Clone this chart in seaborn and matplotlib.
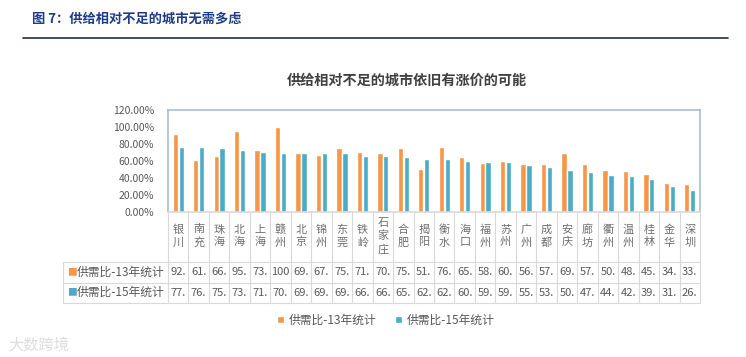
import pandas as pd
import matplotlib
matplotlib.use("Agg")
import matplotlib.pyplot as plt
import matplotlib.transforms as mtransforms
from matplotlib.patches import Patch
from matplotlib.lines import Line2D
import seaborn as sns

# dados
cidades = ['银川', '南充', '珠海', '北海', '上海', '赣州', '北京', '锦州', '东莞', '铁岭',
           '石家庄', '合肥', '揭阳', '衡水', '海口', '福州', '苏州', '广州', '成都', '安庆',
           '廊坊', '衢州', '温州', '桂林', '金华', '深圳']
ratio_13 = [92, 61, 66, 95, 73, 100, 69, 67, 75, 71, 70, 75, 51, 76, 65, 58, 60, 56, 57, 69,
            57, 50, 48, 45, 34, 33]
ratio_15 = [77, 76, 75, 73, 71, 70, 69, 69, 69, 66, 66, 65, 62, 62, 60, 59, 59, 55, 53, 50,
            47, 44, 42, 39, 31, 26]
series = ['供需比-13年统计', '供需比-15年统计']
y_ticks = [0, 0.2, 0.4, 0.6, 0.8, 1.0, 1.2]

df = pd.DataFrame({
    'city': cidades * 2,
    'value': [v / 100 for v in ratio_13 + ratio_15],
    'series': [series[0]] * len(cidades) + [series[1]] * len(cidades),
})

sns.set_style('white')
plt.rcParams['font.family'] = ['Noto Sans CJK SC', 'DejaVu Sans']

W, H = 746, 357
cores = ['#F79646', '#4BACC6']
cinza_txt = '#595959'
cinza_linha = '#D9D9D9'

fig = plt.figure(figsize=(W / 100, H / 100), dpi=100)
ax = fig.add_axes([168 / W, 1 - 212 / H, (700 - 168) / W, (212 - 110) / H])

sns.barplot(data=df, x='city', y='value', hue='series', palette=cores,
            width=0.58, gap=0.1, ax=ax, legend=False, saturation=1)

ax.set_ylim(0, 1.2)
ax.set_xlim(-0.5, len(cidades) - 0.5)
ax.set_yticks(y_ticks)
ax.set_yticklabels([f'{t:.2%}' for t in y_ticks], fontsize=7.5, color=cinza_txt)
ax.tick_params(axis='y', length=0, pad=10)
ax.set_xticks([])
ax.set_xlabel('')
ax.set_ylabel('')
for s in ax.spines.values():
    s.set_color('#A9BFD1')
    s.set_linewidth(1.2)
ax.spines['bottom'].set_color(cinza_linha)

# tabela abaixo do gráfico
tr = mtransforms.blended_transform_factory(ax.transData, fig.transFigure)
n = len(cidades)

def fy(ypix):
    return 1 - ypix / H

def fx(xpix):
    return -0.5 + (xpix - 168) / (700 - 168) * n

for i in range(n + 1):
    ax.add_line(Line2D([i - 0.5, i - 0.5], [fy(212), fy(303)], transform=tr,
                       color=cinza_linha, lw=0.8, clip_on=False))
for yp in [262, 282.5, 303]:
    ax.add_line(Line2D([fx(63), n - 0.5], [fy(yp), fy(yp)], transform=tr,
                       color=cinza_linha, lw=0.8, clip_on=False))
ax.add_line(Line2D([fx(63), fx(63)], [fy(262), fy(303)], transform=tr,
                   color=cinza_linha, lw=0.8, clip_on=False))

for i, c in enumerate(cidades):
    ax.text(i, fy(236), '\n'.join(c), transform=tr, ha='center', va='center',
            fontsize=8, color='#6F6F6F', linespacing=1.3)

def rotulo(v):
    return f'{v}.' if v < 100 else '100'

for row, (vals, yp) in enumerate([(ratio_13, 272), (ratio_15, 292.5)]):
    for i, v in enumerate(vals):
        ax.text(i, fy(yp), rotulo(v), transform=tr, ha='center', va='center',
                fontsize=8, color=cinza_txt)
    fig.text(67 / W, fy(yp), '■', color=cores[row], fontsize=7, ha='left', va='center')
    fig.text(77 / W, fy(yp), series[row], color=cinza_txt, fontsize=8.5, ha='left', va='center')

# legenda
handles = [Patch(facecolor=cores[k], label=series[k]) for k in range(2)]
fig.legend(handles=handles, loc='center', bbox_to_anchor=(386 / W, fy(320)), ncol=2,
           frameon=False, fontsize=8.5, handlelength=0.6, handleheight=0.6,
           handletextpad=0.4, columnspacing=1.6, labelcolor=cinza_txt)

# títulos
fig.text(407 / W, fy(81), '供给相对不足的城市依旧有涨价的可能', ha='center', va='center',
         fontsize=10.2, fontweight='bold', color='#404040')
fig.text(32 / W, fy(19), '图 7：供给相对不足的城市无需多虑', ha='left', va='center',
         fontsize=9.5, fontweight='bold', color='#1F3C88')
fig.add_artist(Line2D([23 / W, 728 / W], [fy(38), fy(38)], color='#1F2D4D', lw=1.2))

# marca d'água
fig.text(8 / W, fy(345), '大数跨境', ha='left', va='center', fontsize=11, color='#DDDDDD')

fig.savefig('out.png', dpi=100)
